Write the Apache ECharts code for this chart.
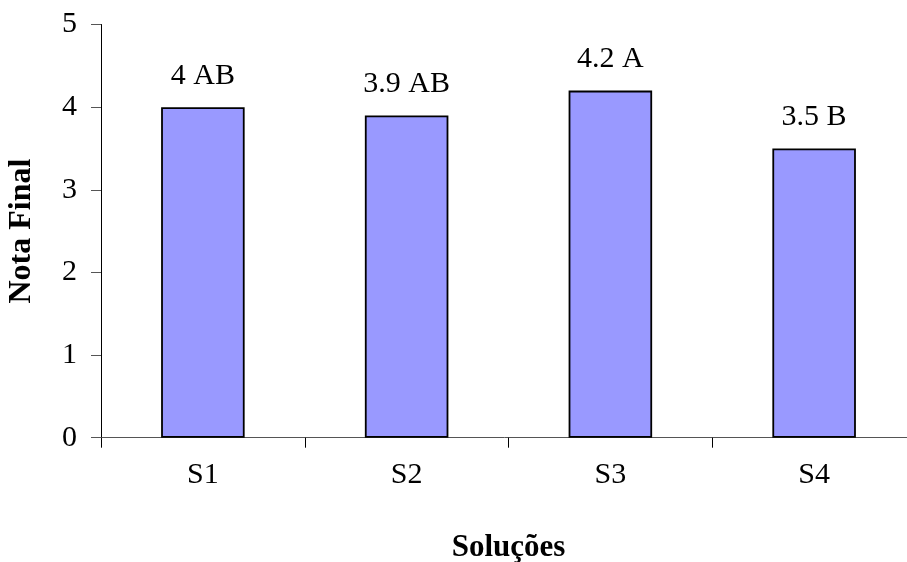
<!DOCTYPE html>
<html>
<head>
<meta charset="utf-8">
<script src="https://cdn.jsdelivr.net/npm/echarts@6/dist/echarts.min.js"></script>
<style>html,body{margin:0;padding:0;background:#fff}#c{width:907px;height:562px}</style>
</head>
<body>
<div id="c"></div>
<script>
const categories = ['S1', 'S2', 'S3', 'S4'];
const values = [4, 3.9, 4.2, 3.5];
const letters = ['AB', 'AB', 'A', 'B'];
const yTicks = [0, 1, 2, 3, 4, 5];

const font = '"Liberation Serif", "Times New Roman", serif';
const chart = echarts.init(document.getElementById('c'), null, {renderer: 'canvas'});
chart.setOption({
  animation: false,
  backgroundColor: '#ffffff',
  grid: {left: 101, top: 24.5, width: 815, height: 413.2, containLabel: false, outerBoundsMode: 'none'},
  xAxis: {
    type: 'category',
    data: categories,
    name: 'Soluções',
    nameLocation: 'middle',
    nameGap: 95,
    nameTextStyle: {fontFamily: font, fontSize: 31, fontWeight: 'bold', color: '#000'},
    axisLine: {lineStyle: {color: '#555', width: 1}},
    axisTick: {show: true, length: 10, inside: false, lineStyle: {color: '#000'}},
    axisLabel: {fontFamily: font, fontSize: 30, color: '#000', margin: 22}
  },
  yAxis: {
    type: 'value',
    min: yTicks[0],
    max: yTicks[yTicks.length - 1],
    interval: 1,
    name: 'Nota Final',
    nameLocation: 'middle',
    nameGap: 63,
    nameTextStyle: {fontFamily: font, fontSize: 32, fontWeight: 'bold', color: '#000'},
    splitLine: {show: false},
    axisLine: {show: true, lineStyle: {color: '#000', width: 1}},
    axisTick: {show: true, length: 10, lineStyle: {color: '#555'}},
    axisLabel: {fontFamily: font, fontSize: 30, color: '#000', margin: 24}
  },
  series: [{
    type: 'bar',
    data: values,
    barWidth: '41%',
    itemStyle: {color: '#9999FF', borderColor: '#000', borderWidth: 1.8},
    label: {
      show: true,
      position: 'top',
      distance: 16,
      fontFamily: font,
      fontSize: 30,
      color: '#000',
      formatter: p => p.value + ' ' + letters[p.dataIndex]
    }
  }]
});
</script>
</body>
</html>
